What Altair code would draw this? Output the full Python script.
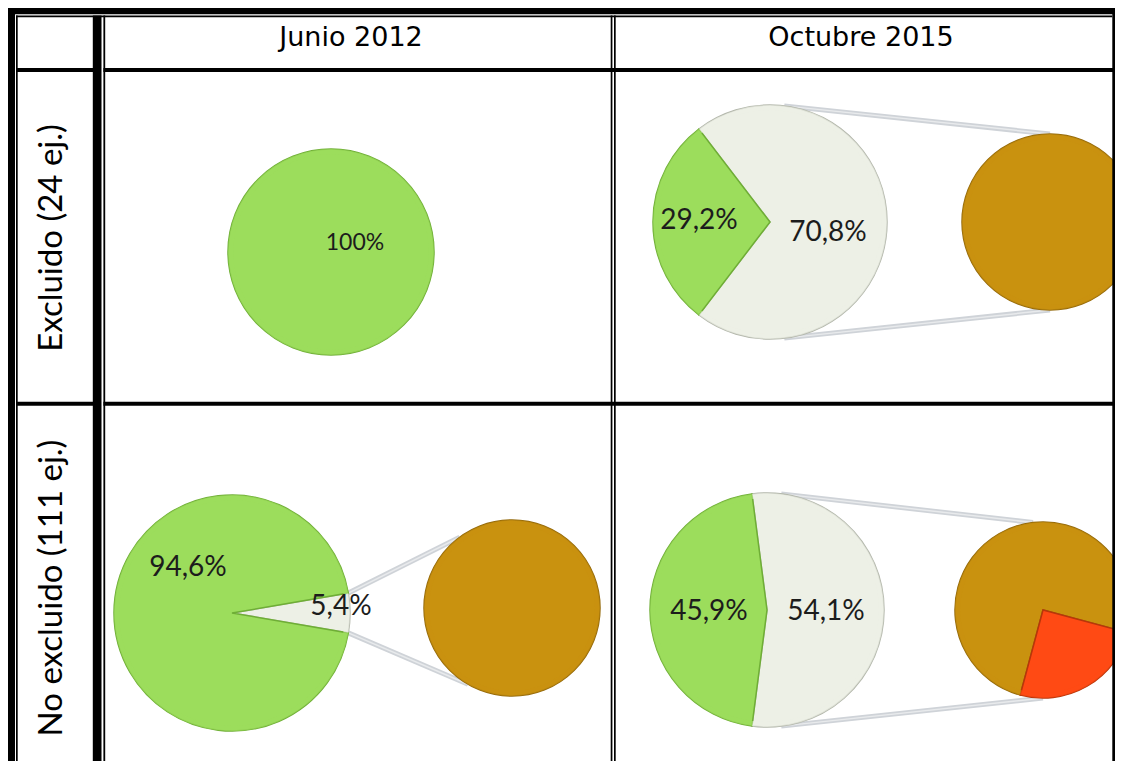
import math
import altair as alt
import pandas as pd

# ---------------- data ----------------
col_titles = ["Junio 2012", "Octubre 2015"]
row_titles = ["Excluido (24 ej.)", "No excluido (111 ej.)"]
# panel order: (Excluido, Junio), (Excluido, Octubre), (No excluido, Junio), (No excluido, Octubre)
pct_green = [100.0, 29.2, 94.6, 45.9]
pct_gray = [0.0, 70.8, 5.4, 54.1]
green_labels = ["100%", "29,2%", "94,6%", "45,9%"]
gray_labels = ["", "70,8%", "5,4%", "54,1%"]
sub_red = [0.0, 0.0, 0.0, 25.0]  # share (%) of the gray slice shown red in the second pie (estimated)

# ---------------- layout (pixels of the 1123x769 picture) ----------------
MAIN = [(331, 252, 103), (770, 222, 117), (232, 613, 118), (767, 610, 117)]
SECOND = [None, (1050, 222, 88), (512, 608, 88), (1043, 610, 88)]
RED_START = 105.0
SECOND_TOP = [None, 0.0, 323.5, -6.5]
SECOND_BOT = [None, 180.0, 210.0, 180.0]
MAIN_TANGENT = 7.0
GREEN_POS = [(355, 243), (699, 221), (188, 568), (709, 612)]
GRAY_POS = [None, (828, 233), (341, 607), (826, 612)]
COL_TITLE_POS = [(351, 38), (861, 38)]
ROW_TITLE_POS = [(52, 238), (52, 588)]

M = 8
X_END, Y_END = 1115, 761   # visible area of the page (8px margin on every side)
RIGHT = X_END              # right border of the table, pulled inside the visible area

def rad(d):
    return d * math.pi / 180.0

def pt(cx, cy, r, deg):
    return cx + r * math.sin(rad(deg)), cy - r * math.cos(rad(deg))

slices = []
for i in range(4):
    cx, cy, r = MAIN[i]
    g = pct_gray[i] * 3.6
    if g > 0:
        slices.append(dict(cx=cx, cy=cy, r=r, t0=rad(90 - g / 2), t1=rad(90 + g / 2), kind="gray"))
        slices.append(dict(cx=cx, cy=cy, r=r, t0=rad(90 + g / 2), t1=rad(450 - g / 2), kind="green"))
    else:
        slices.append(dict(cx=cx, cy=cy, r=r, t0=0.0, t1=2 * math.pi, kind="green"))
    if SECOND[i] is not None:
        sx, sy, sr = SECOND[i]
        red = sub_red[i] * 3.6
        if red > 0:
            slices.append(dict(cx=sx, cy=sy, r=sr, t0=rad(RED_START + red), t1=rad(RED_START + 360), kind="orange"))
            slices.append(dict(cx=sx, cy=sy, r=sr, t0=rad(RED_START), t1=rad(RED_START + red), kind="red"))
        else:
            slices.append(dict(cx=sx, cy=sy, r=sr, t0=0.0, t1=2 * math.pi, kind="orange"))
slices = pd.DataFrame(slices)
slices["rin"] = slices["r"] - 5

conn = []
for i in range(4):
    if SECOND[i] is None:
        continue
    cx, cy, r = MAIN[i]
    sx, sy, sr = SECOND[i]
    g = pct_gray[i] * 3.6
    if g < 180:
        a_top, a_bot = 90 - g / 2, 90 + g / 2
    else:
        a_top, a_bot = MAIN_TANGENT, 180 - MAIN_TANGENT
    x1, y1 = pt(cx, cy, r, a_top)
    x2, y2 = pt(sx, sy, sr, SECOND_TOP[i])
    conn.append(dict(x=x1, y=y1, x2=x2, y2=y2))
    x1, y1 = pt(cx, cy, r, a_bot)
    x2, y2 = pt(sx, sy, sr, SECOND_BOT[i])
    conn.append(dict(x=x1, y=y1, x2=x2, y2=y2))
conn = pd.DataFrame(conn)

labels = []
for i in range(4):
    labels.append(dict(x=GREEN_POS[i][0], y=GREEN_POS[i][1], text=green_labels[i],
                       size=23 if pct_gray[i] == 0 else 28))
    if GRAY_POS[i] is not None:
        labels.append(dict(x=GRAY_POS[i][0], y=GRAY_POS[i][1], text=gray_labels[i], size=28))
labels = pd.DataFrame(labels)

heads = pd.DataFrame([dict(x=p[0], y=p[1], text=t) for p, t in zip(COL_TITLE_POS, col_titles)])
rheads = pd.DataFrame([dict(x=p[0], y=p[1], text=t) for p, t in zip(ROW_TITLE_POS, row_titles)])

# table borders (x, x2, y, y2)
borders = pd.DataFrame([
    dict(x=6, x2=RIGHT, y=6, y2=14.3),          # top thick
    dict(x=16, x2=RIGHT - 2.7, y=15.5, y2=17.2),  # top thin
    dict(x=6, x2=15, y=6, y2=Y_END),            # left thick
    dict(x=16, x2=17.7, y=15.5, y2=Y_END),      # left thin
    dict(x=RIGHT - 2.7, x2=RIGHT, y=6, y2=Y_END),  # right
    dict(x=92.8, x2=101.5, y=15.5, y2=Y_END),   # first column thick
    dict(x=103.4, x2=105.2, y=15.5, y2=Y_END),  # first column thin
    dict(x=610.7, x2=612.4, y=15.5, y2=Y_END),  # double line
    dict(x=614.0, x2=615.7, y=15.5, y2=Y_END),
    dict(x=17, x2=93, y=68, y2=72),             # header bottom
    dict(x=103.4, x2=RIGHT - 2, y=68, y2=72),
    dict(x=17, x2=93, y=401.8, y2=405.8),       # row divider
    dict(x=103.4, x2=RIGHT - 2, y=401.8, y2=405.8),
])

xs = alt.Scale(domain=[M, X_END], range=[0, X_END - M], nice=False, zero=False)
ys = alt.Scale(domain=[M, Y_END], range=[0, Y_END - M], nice=False, zero=False)

def X(f="x"):
    return alt.X(f"{f}:Q", scale=xs, axis=None)

def Y(f="y"):
    return alt.Y(f"{f}:Q", scale=ys, axis=None)

kinds = ["green", "gray", "orange", "red"]
fills = ["#9cdd5c", "#edf0e6", "#c9920f", "#ff4a14"]
strokes = ["#6fae36", "#b3b7ab", "#94690a", "#b8360a"]
rims = ["#7fbf44", "#cdd0c5", "#a87806", "#d23a0c"]

lines = alt.Chart(conn).mark_rule(strokeWidth=5, color="#cfd3d8", strokeCap="butt").encode(
    x=X("x"), y=Y("y"), x2="x2:Q", y2="y2:Q")
lines_hi = alt.Chart(conn).mark_rule(strokeWidth=1.5, color="#e8eaec", strokeCap="butt").encode(
    x=X("x"), y=Y("y"), x2="x2:Q", y2="y2:Q")

pies = alt.Chart(slices).mark_arc(strokeWidth=1.5).encode(
    x=X("cx"), y=Y("cy"),
    theta=alt.Theta("t0:Q", scale=None), theta2="t1:Q",
    radius=alt.Radius("r:Q", scale=None),
    color=alt.Color("kind:N", scale=alt.Scale(domain=kinds, range=fills), legend=None),
    stroke=alt.Stroke("kind:N", scale=alt.Scale(domain=kinds, range=strokes), legend=None),
)
rim = alt.Chart(slices).mark_arc(opacity=0.7).encode(
    x=X("cx"), y=Y("cy"),
    theta=alt.Theta("t0:Q", scale=None), theta2="t1:Q",
    radius=alt.Radius("r:Q", scale=None), radius2="rin:Q",
    color=alt.Color("kind:N", scale=alt.Scale(domain=kinds, range=rims), legend=None),
)

pct_text = alt.Chart(labels).mark_text(font="Lato", color="#1c1c1c", align="center", baseline="middle").encode(
    x=X("x"), y=Y("y"), text="text:N", size=alt.Size("size:Q", scale=None))

head_text = alt.Chart(heads).mark_text(font="DejaVu Sans", fontSize=27, color="#000000",
                                       align="center", baseline="middle").encode(
    x=X("x"), y=Y("y"), text="text:N")
row_text = alt.Chart(rheads).mark_text(font="Lato", fontSize=33, color="#000000", angle=270,
                                       align="center", baseline="middle").encode(
    x=X("x"), y=Y("y"), text="text:N")

grid = alt.Chart(borders).mark_rect(color="#000000").encode(
    x=X("x"), x2="x2:Q", y=Y("y"), y2="y2:Q")

chart = alt.layer(lines, lines_hi, pies, rim, pct_text, grid, head_text, row_text).properties(
    width=X_END - M, height=Y_END - M,
    autosize=alt.AutoSizeParams(type="none"),
    padding=0,
).configure_view(stroke=None).configure(background="#ffffff")

chart.save("out.html", embed_options={"renderer": "svg", "actions": False})
